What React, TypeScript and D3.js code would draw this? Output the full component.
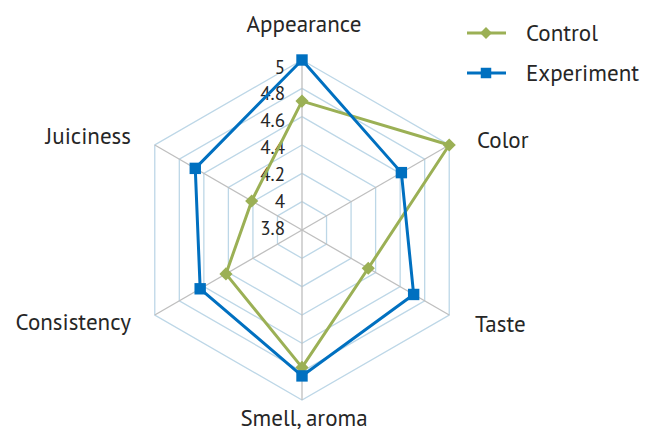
import React, { useEffect, useRef } from 'react';
import * as d3 from 'd3';

const categories = ['Appearance', 'Color', 'Taste', 'Smell, aroma', 'Consistency', 'Juiciness'];
const controlValues = [4.71, 5.0, 4.34, 4.77, 4.42, 4.21];
const experimentValues = [5.0, 4.61, 4.71, 4.83, 4.63, 4.67];
const tickValues = [3.8, 4, 4.2, 4.4, 4.6, 4.8, 5];
const seriesNames = ['Control', 'Experiment'];

const App = () => {
  const ref = useRef<SVGSVGElement>(null);

  useEffect(() => {
    const svg = d3.select(ref.current);
    svg.selectAll('*').remove();

    const cx = 302;
    const cy = 230;
    const radius = 170;
    const font = "'PT Sans', 'Open Sans', 'Noto Sans', sans-serif";

    const r = d3.scaleLinear().domain([3.8, 5]).range([0, radius]);
    const angle = d3.scalePoint<string>()
      .domain(categories)
      .range([0, (2 * Math.PI * 5) / 6]);

    const pt = (cat: string, v: number): [number, number] => {
      const a = angle(cat)! - Math.PI / 2;
      return [cx + Math.cos(a) * r(v), cy + Math.sin(a) * r(v)];
    };

    const g = svg.append('g');

    // rings
    tickValues.slice(1).forEach((t) => {
      const pts = categories.map((c) => pt(c, t));
      g.append('path')
        .attr('d', d3.line()([...pts, pts[0]]))
        .attr('fill', 'none')
        .attr('stroke', '#bdd7e7')
        .attr('stroke-width', 1.3);
    });

    // spokes
    categories.forEach((c) => {
      const [x, y] = pt(c, 5);
      g.append('line')
        .attr('x1', cx).attr('y1', cy)
        .attr('x2', x).attr('y2', y)
        .attr('stroke', '#bfbfbf')
        .attr('stroke-width', 1.3);
    });

    // tick labels
    const labelY = d3.scaleLinear().domain([3.8, 5]).range([228, 67]);
    g.selectAll('.tick')
      .data(tickValues)
      .enter().append('text')
      .attr('x', 285)
      .attr('y', (d) => labelY(d))
      .attr('dy', '0.35em')
      .attr('text-anchor', 'end')
      .attr('font-family', font)
      .attr('font-size', 19)
      .attr('fill', '#262626')
      .text((d) => String(d));

    // category labels
    const catPos: Record<string, { x: number; y: number; anchor: string }> = {
      'Appearance': { x: 304, y: 24, anchor: 'middle' },
      'Color': { x: 477, y: 140, anchor: 'start' },
      'Taste': { x: 475, y: 324, anchor: 'start' },
      'Smell, aroma': { x: 304, y: 418, anchor: 'middle' },
      'Consistency': { x: 131, y: 322, anchor: 'end' },
      'Juiciness': { x: 131, y: 136, anchor: 'end' },
    };
    categories.forEach((c) => {
      const p = catPos[c];
      g.append('text')
        .attr('x', p.x).attr('y', p.y)
        .attr('dy', '0.35em')
        .attr('text-anchor', p.anchor)
        .attr('font-family', font)
        .attr('font-size', 23)
        .attr('fill', '#262626')
        .text(c);
    });

    const series = [
      { name: seriesNames[0], values: controlValues, color: '#9bb055', marker: d3.symbolDiamond2 },
      { name: seriesNames[1], values: experimentValues, color: '#0070c0', marker: d3.symbolSquare },
    ];

    series.forEach((s) => {
      const pts = categories.map((c, i) => pt(c, s.values[i]));
      g.append('path')
        .attr('d', d3.line()([...pts, pts[0]]))
        .attr('fill', 'none')
        .attr('stroke', s.color)
        .attr('stroke-width', 3)
        .attr('stroke-linejoin', 'round');
      g.selectAll(null)
        .data(pts)
        .enter().append('path')
        .attr('transform', (d) => `translate(${d[0]},${d[1]})`)
        .attr('d', d3.symbol().type(s.marker).size(s.marker === d3.symbolSquare ? 130 : 110)())
        .attr('fill', s.color);
    });

    // legend
    const legendY = d3.scalePoint<string>().domain(seriesNames).range([33, 73]);
    series.forEach((s) => {
      const y = legendY(s.name)!;
      g.append('line')
        .attr('x1', 467).attr('x2', 506)
        .attr('y1', y).attr('y2', y)
        .attr('stroke', s.color)
        .attr('stroke-width', 3);
      g.append('path')
        .attr('transform', `translate(486,${y})`)
        .attr('d', d3.symbol().type(s.marker).size(s.marker === d3.symbolSquare ? 110 : 90)())
        .attr('fill', s.color);
      g.append('text')
        .attr('x', 526).attr('y', y)
        .attr('dy', '0.35em')
        .attr('font-family', font)
        .attr('font-size', 23)
        .attr('fill', '#262626')
        .text(s.name);
    });
  }, []);

  return (
    <svg
      ref={ref}
      width={646}
      height={431}
      style={{ position: 'absolute', left: 0, top: 0, background: '#fff' }}
    />
  );
};

export default App;
